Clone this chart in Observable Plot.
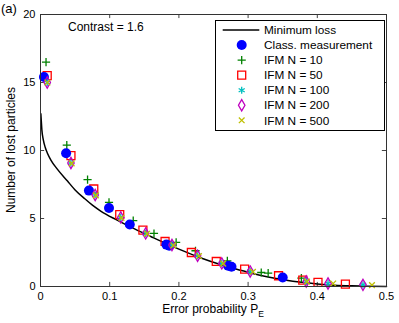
<!DOCTYPE html>
<html>
<head>
<meta charset="utf-8">
<script src="https://cdn.jsdelivr.net/npm/d3@7"></script>
<script src="https://cdn.jsdelivr.net/npm/@observablehq/plot@0.6"></script>
<style>
  html, body { margin: 0; padding: 0; background: #fff; }
  #chart { width: 399px; height: 323px; }
</style>
</head>
<body>
<div id="chart"></div>
<script>
// ---------- data ----------
const xTicks = [0, 0.1, 0.2, 0.3, 0.4, 0.5];
const yTicks = [0, 5, 10, 15, 20];
const titleTag = "(a)";
const contrastLabel = "Contrast = 1.6";
const xLabelMain = "Error probability P";
const xLabelSub = "E";
const yLabel = "Number of lost particles";

const minLossX = [0.0005, 0.001, 0.002, 0.004, 0.007, 0.010, 0.015, 0.024, 0.039, 0.050, 0.064, 0.075, 0.087, 0.110, 0.130, 0.160, 0.184, 0.208, 0.232, 0.261, 0.280, 0.305, 0.329, 0.353, 0.377, 0.400, 0.425, 0.450, 0.473, 0.500];
const minLossY = [12.7, 12.3, 11.5, 10.8, 10.2, 9.8, 9.3, 8.65, 7.75, 7.1, 6.45, 5.98, 5.55, 4.9, 4.38, 3.66, 3.1, 2.58, 2.1, 1.6, 1.32, 0.98, 0.7, 0.48, 0.31, 0.19, 0.1, 0.05, 0.02, 0];

const classX = [0.005, 0.037, 0.070, 0.099, 0.129, 0.182, 0.186, 0.271, 0.276, 0.350];
const classY = [15.4, 9.8, 7.05, 5.77, 4.56, 3.08, 3.0, 1.52, 1.45, 0.66];

const n10X = [0.008, 0.038, 0.068, 0.099, 0.134, 0.164, 0.196, 0.224, 0.270, 0.319, 0.329, 0.377];
const n10Y = [16.5, 10.4, 7.86, 6.19, 4.84, 3.9, 3.24, 2.63, 1.88, 1.03, 0.98, 0.62];

const n50X = [0.0097, 0.044, 0.077, 0.1145, 0.148, 0.180, 0.218, 0.254, 0.295, 0.344, 0.379, 0.401, 0.4406];
const n50Y = [15.5, 9.62, 7.17, 5.28, 4.15, 3.31, 2.5, 1.84, 1.28, 0.79, 0.47, 0.3, 0.17];

const n100X = [0.0097, 0.044, 0.079, 0.116, 0.152, 0.190, 0.227, 0.262, 0.303, 0.384, 0.4155, 0.466];
const n100Y = [15.0, 9.08, 6.73, 5.08, 3.9, 3.05, 2.26, 1.7, 1.1, 0.37, 0.22, 0.12];

const n200X = [0.0097, 0.044, 0.079, 0.116, 0.152, 0.190, 0.227, 0.262, 0.303, 0.384, 0.4155, 0.466];
const n200Y = [15.0, 9.08, 6.73, 5.08, 3.9, 3.05, 2.26, 1.7, 1.1, 0.37, 0.22, 0.12];

const n500X = [0.0100, 0.045, 0.080, 0.117, 0.154, 0.192, 0.229, 0.264, 0.307, 0.385, 0.423, 0.479];
const n500Y = [15.0, 9.05, 6.7, 5.05, 3.88, 3.02, 2.24, 1.68, 1.08, 0.36, 0.22, 0.1];

const seriesNames = ["Minimum loss", "Class. measurement", "IFM N = 10", "IFM N = 50", "IFM N = 100", "IFM N = 200", "IFM N = 500"];
const seriesColors = ["#000000", "#0000ff", "#008000", "#ff0000", "#00bfbf", "#bf00bf", "#bfbf00"];

// ---------- build ----------
const zip = (xs, ys) => xs.map((x, i) => ({x, y: ys[i]}));
const minLoss = zip(minLossX, minLossY);
const classical = zip(classX, classY);
const n10 = zip(n10X, n10Y);
const n50 = zip(n50X, n50Y);
const n100 = zip(n100X, n100Y);
const n200 = zip(n200X, n200Y);
const n500 = zip(n500X, n500Y);

// marker styles (symbol, r, fill/stroke)
const markerStyles = [
  null,
  {symbol: "circle", r: 5, fill: seriesColors[1]},
  {symbol: "plus", r: 2.75, stroke: seriesColors[2]},
  {symbol: "square", r: 4.5, stroke: seriesColors[3]},
  {symbol: "asterisk", r: 3.3, stroke: seriesColors[4]},
  {symbol: "diamond", r: 3.4, stroke: seriesColors[5]},
  {symbol: "times", r: 2.7, stroke: seriesColors[6]}
];

const fontFam = '"Liberation Sans", Arial, Helvetica, sans-serif';
const sw = 1.3;
function dots(data, st) {
  const o = {x: "x", y: "y", symbol: st.symbol, r: st.r};
  if (st.fill) { o.fill = st.fill; o.stroke = "none"; }
  else { o.stroke = st.stroke; o.fill = "none"; o.strokeWidth = sw; }
  return Plot.dot(data, o);
}

const plot = Plot.plot({
  width: 399,
  height: 323,
  marginLeft: 40,
  marginRight: 13,
  marginTop: 14,
  marginBottom: 37,
  style: {fontFamily: fontFam, fontSize: "11px", background: "white", color: "black", overflow: "visible"},
  x: {domain: [0, 0.5]},
  y: {domain: [0, 20]},
  marks: [
    Plot.axisX(xTicks, {tickSize: 0, tickPadding: 6, label: null, tickFormat: d => d === 0 ? "0" : String(d), fontSize: 11}),
    Plot.axisY(yTicks, {tickSize: 0, tickPadding: 5, label: null, tickFormat: d => String(d), fontSize: 11}),
    // inward ticks on all four sides
    Plot.ruleX(xTicks, {x: d => d, y1: 0, y2: 0.3, stroke: "#444"}),
    Plot.ruleX(xTicks, {x: d => d, y1: 20, y2: 19.7, stroke: "#444"}),
    Plot.ruleY(yTicks, {y: d => d, x1: 0, x2: 0.006, stroke: "#444"}),
    Plot.ruleY(yTicks, {y: d => d, x1: 0.5, x2: 0.494, stroke: "#444"}),
    Plot.line(minLoss, {x: "x", y: "y", stroke: seriesColors[0], strokeWidth: 1.5, curve: "monotone-x"}),
    dots(n10, markerStyles[2]),
    dots(n50, markerStyles[3]),
    dots(classical, markerStyles[1]),
    dots(n100, markerStyles[4]),
    dots(n200, markerStyles[5]),
    dots(n500, markerStyles[6]),
    Plot.frame({stroke: "#333", strokeWidth: 1})
  ]
});

document.getElementById("chart").appendChild(plot);

// ---------- annotations (text, legend) ----------
const svg = d3.select(plot);

svg.append("text").attr("x", 1).attr("y", 13)
  .attr("text-anchor", "start")
  .attr("font-family", fontFam).attr("font-size", 13).attr("fill", "#000")
  .text(titleTag);

svg.append("text").attr("x", 68).attr("y", 31)
  .attr("text-anchor", "start")
  .attr("font-family", fontFam).attr("font-size", 12).attr("fill", "#000")
  .text(contrastLabel);

const xl = svg.append("text").attr("x", 213).attr("y", 313)
  .attr("text-anchor", "middle")
  .attr("font-family", fontFam).attr("font-size", 12).attr("fill", "#000");
xl.append("tspan").text(xLabelMain);
xl.append("tspan").attr("font-size", 8.5).attr("dy", 4).text(xLabelSub);

svg.append("text")
  .attr("transform", "translate(15,150) rotate(-90)")
  .attr("text-anchor", "middle")
  .attr("font-family", fontFam).attr("font-size", 12).attr("fill", "#000")
  .text(yLabel);

// legend
const lg = svg.append("g");
lg.append("rect").attr("x", 215.5).attr("y", 20.5).attr("width", 169).attr("height", 110)
  .attr("fill", "white").attr("stroke", "#000").attr("stroke-width", 1);
const symMap = {circle: d3.symbolCircle, plus: d3.symbolPlus, square: d3.symbolSquare, asterisk: d3.symbolAsterisk, diamond: d3.symbolDiamond, times: d3.symbolTimes};
seriesNames.forEach((name, i) => {
  const cy = 30 + i * 15.05;
  if (i === 0) {
    lg.append("line").attr("x1", 222.7).attr("x2", 259.3).attr("y1", cy).attr("y2", cy)
      .attr("stroke", seriesColors[0]).attr("stroke-width", 1.5);
  } else {
    const st = markerStyles[i];
    const p = lg.append("path")
      .attr("transform", `translate(241.7,${cy})`)
      .attr("d", d3.symbol(symMap[st.symbol], Math.PI * st.r * st.r)());
    if (st.fill) p.attr("fill", st.fill);
    else p.attr("fill", "none").attr("stroke", st.stroke).attr("stroke-width", sw);
  }
  lg.append("text").attr("x", 264).attr("y", cy + 4.2)
    .attr("text-anchor", "start")
    .attr("font-family", fontFam).attr("font-size", 11.8).attr("fill", "#000")
    .text(name);
});
</script>
</body>
</html>
